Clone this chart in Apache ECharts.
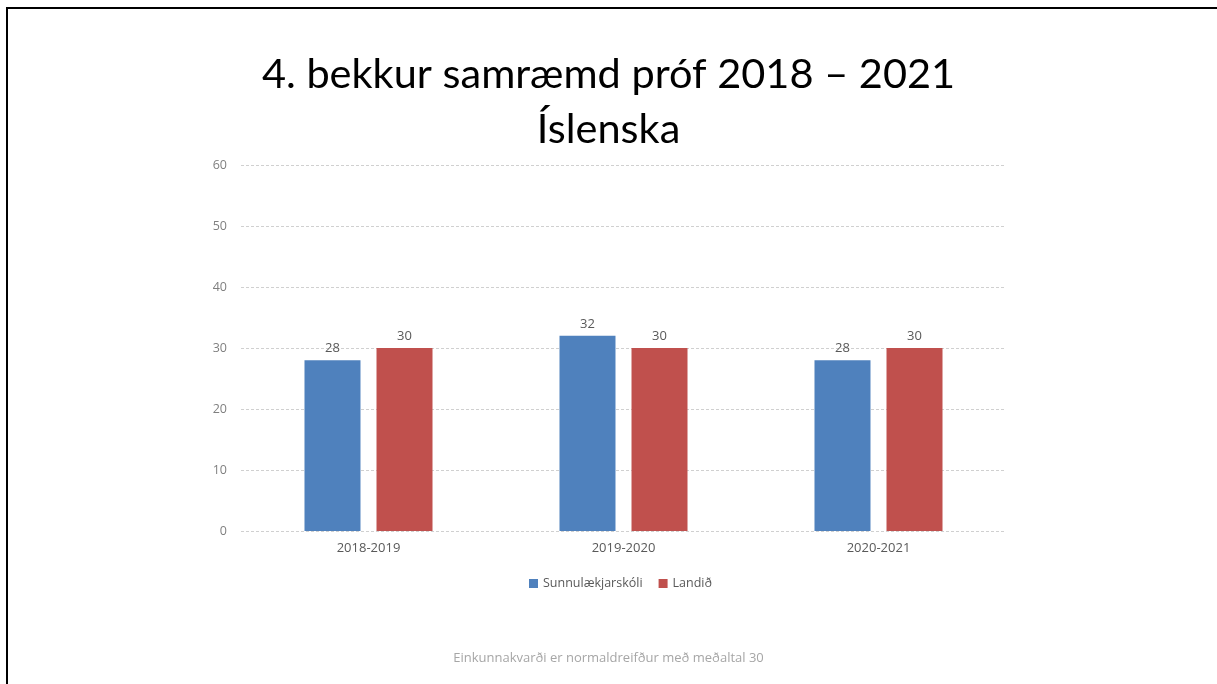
<!DOCTYPE html>
<html>
<head>
<meta charset="utf-8">
<script src="https://cdn.jsdelivr.net/npm/echarts@6/dist/echarts.min.js"></script>
<style>
  html, body { margin: 0; padding: 0; background: #fff; }
  #chart { width: 1217px; height: 684px; }
</style>
</head>
<body>
<div id="chart"></div>
<script>
// data
const categories = ['2018-2019', '2019-2020', '2020-2021'];
const schoolName = 'Sunnulækjarskóli';
const schoolValues = [28, 32, 28];
const countryName = 'Landið';
const countryValues = [30, 30, 30];

const titleText = '4. bekkur samræmd próf 2018 – 2021\nÍslenska';
const footerText = 'Einkunnakvarði er normaldreifður með meðaltal 30';

const smallFont = 'Open Sans';

const chart = echarts.init(document.getElementById('chart'));

const labelStyle = {
  show: true,
  position: 'top',
  distance: 5,
  color: '#595959',
  fontSize: 13,
  fontFamily: smallFont
};

const option = {
  animation: false,
  backgroundColor: '#fff',
  title: {
    text: titleText,
    left: 'center',
    top: 42,
    textStyle: {
      fontFamily: 'Lato',
      fontWeight: 'normal',
      fontSize: 41.5,
      lineHeight: 55,
      color: '#000'
    }
  },
  grid: {
    left: 241,
    right: 211,
    top: 165,
    bottom: 153
  },
  legend: {
    top: 572,
    left: 524,
    itemWidth: 9,
    itemHeight: 9,
    itemGap: 16,
    itemTextGap: 3,
    icon: 'rect',
    textStyle: { color: '#595959', fontSize: 12.5, fontFamily: smallFont },
    data: [schoolName, countryName]
  },
  xAxis: {
    type: 'category',
    data: categories,
    axisLine: { show: false },
    axisTick: { show: false },
    axisLabel: { color: '#595959', fontSize: 13, margin: 11, fontFamily: smallFont }
  },
  yAxis: {
    type: 'value',
    min: 0,
    max: 60,
    interval: 10,
    axisLine: { show: false },
    axisTick: { show: false },
    axisLabel: { color: '#7f7f7f', fontSize: 12.5, margin: 14, fontFamily: smallFont },
    splitLine: { lineStyle: { color: '#d0d0d0', type: [3, 2], width: 1 } }
  },
  series: [
    {
      name: schoolName,
      type: 'bar',
      data: schoolValues,
      barWidth: 56,
      barGap: '28.6%',
      itemStyle: { color: '#4F81BD' },
      label: labelStyle
    },
    {
      name: countryName,
      type: 'bar',
      data: countryValues,
      barWidth: 56,
      itemStyle: { color: '#C0504D' },
      label: labelStyle
    }
  ],
  graphic: [
    {
      type: 'polyline',
      shape: { points: [[7, 684], [7, 8], [1217, 8]] },
      style: { stroke: '#000', lineWidth: 2, fill: null }
    },
    {
      type: 'text',
      left: 'center',
      top: 652,
      style: {
        text: footerText,
        fill: '#a6a6a6',
        fontSize: 13,
        fontFamily: smallFont
      }
    }
  ]
};

chart.setOption(option);
</script>
</body>
</html>
